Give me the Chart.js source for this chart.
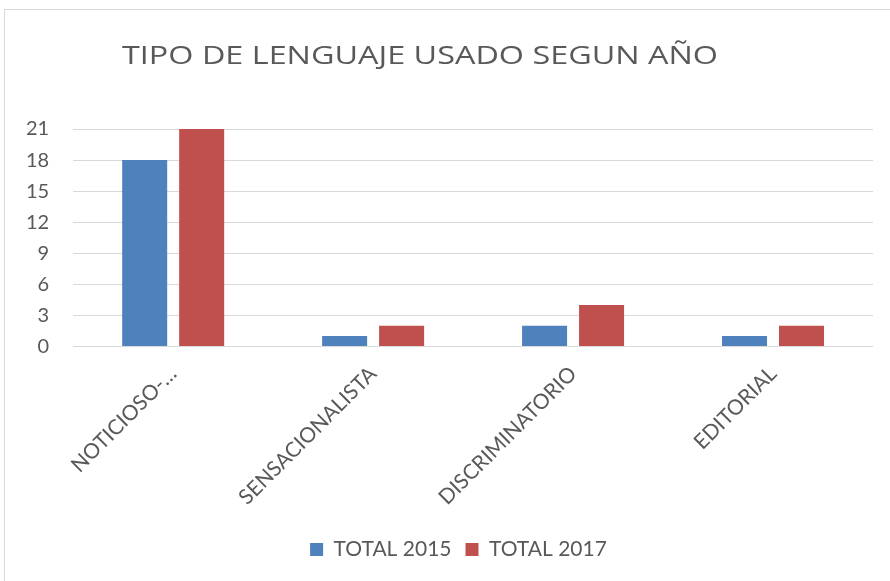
<!DOCTYPE html>
<html>
<head>
<meta charset="utf-8">
<script src="https://cdn.jsdelivr.net/npm/chart.js@4/dist/chart.umd.min.js"></script>
<style>
  html, body { margin: 0; padding: 0; background: #fff; }
  #wrap { position: relative; width: 890px; height: 581px; }
  #frame { position: absolute; left: 4px; top: 9px; width: 900px; height: 600px; border: 1px solid #d9d9d9; box-sizing: border-box; }
  canvas { position: absolute; left: 0; top: 0; }
</style>
</head>
<body>
<div id="wrap">
  <div id="frame"></div>
  <canvas id="c" width="890" height="581"></canvas>
</div>
<script>
const titleText = "TIPO DE LENGUAJE USADO SEGUN AÑO";
const categories = ["NOTICIOSO-…", "SENSACIONALISTA", "DISCRIMINATORIO", "EDITORIAL"];
const seriesNames = ["TOTAL 2015", "TOTAL 2017"];
const total2015 = [18, 1, 2, 1];
const total2017 = [21, 2, 4, 2];
const yTicks = [0, 3, 6, 9, 12, 15, 18, 21];

const FONT = "Lato";
const TEXT = "#595959";

// Title drawn at the reference's off-centre position, stretched to its width.
const sideTitle = {
  id: "sideTitle",
  afterDraw(chart, args, opts) {
    const ctx = chart.ctx;
    ctx.save();
    ctx.font = opts.font;
    ctx.fillStyle = opts.color;
    ctx.textBaseline = "alphabetic";
    ctx.textAlign = "left";
    const w = ctx.measureText(opts.text).width;
    const sx = opts.width / w;
    ctx.translate(opts.x, opts.y);
    ctx.scale(sx, 1);
    ctx.fillText(opts.text, 0, 0);
    ctx.restore();
  }
};

// Shift legend horizontally to match the reference position.
const legendShift = {
  id: "legendShift",
  afterLayout(chart, args, opts) {
    if (chart.legend) {
      chart.legend.left += opts.dx;
      chart.legend.right += opts.dx;
    }
  }
};

new Chart(document.getElementById("c"), {
  type: "bar",
  data: {
    labels: categories,
    datasets: [
      { label: seriesNames[0], data: total2015, backgroundColor: "#4f81bd", categoryPercentage: 0.57, barPercentage: 0.79 },
      { label: seriesNames[1], data: total2017, backgroundColor: "#c0504d", categoryPercentage: 0.57, barPercentage: 0.79 }
    ]
  },
  options: {
    responsive: false,
    animation: false,
    devicePixelRatio: 1,
    layout: { padding: { top: 129, left: 2, right: 17, bottom: 11 } },
    plugins: {
      title: { display: false },
      sideTitle: { text: titleText, x: 122, y: 63.5, width: 596, font: "400 25px 'Open Sans'", color: TEXT },
      legendShift: { dx: 21 },
      legend: {
        position: "bottom",
        labels: {
          color: TEXT,
          font: { family: FONT, size: 21 },
          boxWidth: 13, boxHeight: 13,
          padding: 14
        }
      },
      tooltip: { enabled: false }
    },
    scales: {
      x: {
        grid: { display: false, drawTicks: false },
        border: { display: false },
        ticks: { color: TEXT, font: { family: FONT, size: 21 }, maxRotation: 45, minRotation: 45, padding: 15, autoSkip: false }
      },
      y: {
        min: 0, max: 21,
        afterBuildTicks(axis) { axis.ticks = yTicks.map(v => ({ value: v })); },
        grid: { color: "#d9d9d9", lineWidth: 1, drawTicks: false },
        border: { display: false },
        ticks: { color: TEXT, font: { family: FONT, size: 20 }, padding: 24 }
      }
    }
  },
  plugins: [sideTitle, legendShift]
});
</script>
</body>
</html>
